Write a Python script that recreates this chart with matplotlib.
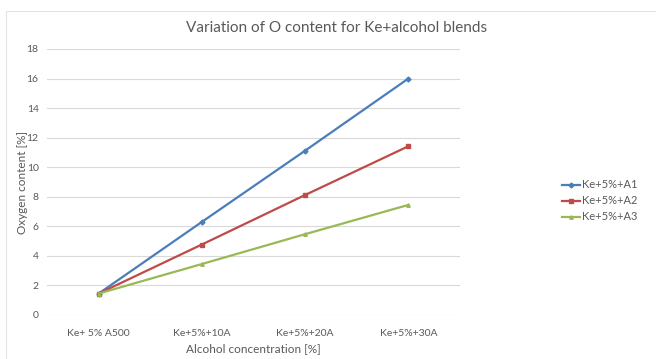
import matplotlib
matplotlib.use("Agg")
import matplotlib.pyplot as plt
from matplotlib.patches import Rectangle

categories = ["Ke+ 5% A500", "Ke+5%+10A", "Ke+5%+20A", "Ke+5%+30A"]
a1 = [1.45, 6.3, 11.12, 16.0]
a2 = [1.45, 4.77, 8.12, 11.42]
a3 = [1.45, 3.45, 5.47, 7.45]
series_names = ["Ke+5%+A1", "Ke+5%+A2", "Ke+5%+A3"]
yticks = list(range(0, 20, 2))

TXT = "#595959"
plt.rcParams['font.family'] = ['Lato', 'DejaVu Sans']


def main():
    fig = plt.figure(figsize=(6.56, 3.59), dpi=100)
    fig.patches.append(Rectangle((6 / 656, -0.05), 1.0, 1 - 11 / 359 + 0.05,
                                 transform=fig.transFigure, fill=False,
                                 edgecolor="#e3e3e3", linewidth=0.8))
    ax = fig.add_axes([47 / 656, 1 - 315 / 359, 413 / 656, 266 / 359])

    x = range(len(categories))
    colors = ["#4a7ebb", "#be4b48", "#98b954"]
    markers = ["D", "s", "^"]
    for vals, name, c, m in zip([a1, a2, a3], series_names, colors, markers):
        ax.plot(x, vals, color=c, lw=1.6, marker=m, ms=2.5, label=name)

    ax.set_xlim(-0.5, len(categories) - 0.5)
    ax.set_ylim(0, 18)
    ax.set_yticks(yticks)
    ax.set_xticks(list(x))
    ax.set_xticklabels(categories)
    ax.grid(axis="y", color="#d9d9d9", lw=0.8)
    ax.set_axisbelow(True)
    for s in ax.spines.values():
        s.set_visible(False)
    ax.tick_params(length=0, labelsize=7.5, labelcolor=TXT)
    ax.tick_params(axis="x", pad=10)
    ax.tick_params(axis="y", pad=6)

    ax.set_xlabel("Alcohol concentration [%]", fontsize=8.5, color=TXT, labelpad=4)
    ax.set_ylabel("Oxygen content [%]", fontsize=8.5, color=TXT)
    ax.yaxis.set_label_coords(-0.046, 0.5)
    fig.text(0.513, 1 - 28 / 359, "Variation of O content for Ke+alcohol blends",
             ha="center", va="center", fontsize=11, color=TXT)

    leg = ax.legend(loc="center left", bbox_to_anchor=(558 / 656, 1 - 201 / 359),
                    bbox_transform=fig.transFigure, frameon=False, fontsize=8,
                    handlelength=1.6, handletextpad=0.2, labelspacing=0.45,
                    borderaxespad=0)
    for t in leg.get_texts():
        t.set_color(TXT)

    fig.savefig("out.png", dpi=100)


if __name__ == "__main__":
    main()
